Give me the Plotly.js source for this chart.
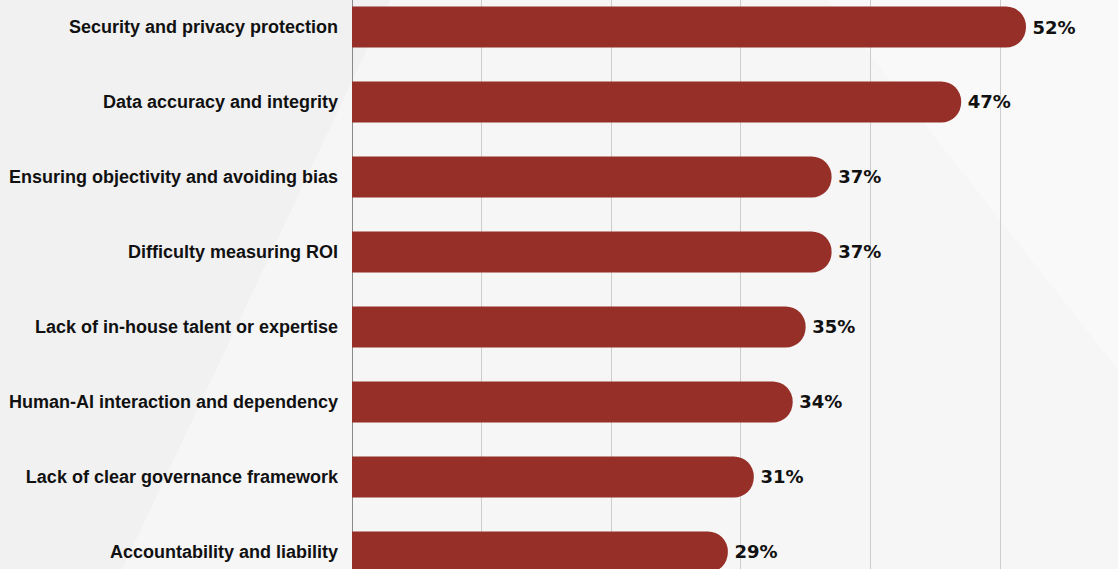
<!DOCTYPE html>
<html>
<head>
<meta charset="utf-8">
<script src="https://cdn.plot.ly/plotly-3.0.1.min.js"></script>
<style>html,body{margin:0;padding:0;background:#f6f6f7;}#chart{width:1118px;height:569px;}</style>
</head>
<body>
<div id="chart"></div>
<script>
const categories = [
  "Security and privacy protection",
  "Data accuracy and integrity",
  "Ensuring objectivity and avoiding bias",
  "Difficulty measuring ROI",
  "Lack of in-house talent or expertise",
  "Human-AI interaction and dependency",
  "Lack of clear governance framework",
  "Accountability and liability"
];
const values = [52, 47, 37, 37, 35, 34, 31, 29];
const xTicks = [0, 10, 20, 30, 40, 50];

const trace = {
  type: 'bar',
  orientation: 'h',
  y: categories,
  x: values,
  marker: { color: '#952f27', cornerradius: '50%' },
  texttemplate: '\u2009%{x}%',
  textposition: 'outside',
  cliponaxis: false,
  textfont: { family: 'DejaVu Sans, sans-serif', size: 18, color: '#111111', weight: 'bold' },
  hoverinfo: 'none'
};

const layout = {
  width: 1118, height: 569,
  margin: { l: 352, r: 0, t: 0, b: 0, pad: 0 },
  paper_bgcolor: '#f6f6f7',
  plot_bgcolor: 'rgba(0,0,0,0)',
  showlegend: false,
  bargap: 0.453,
  xaxis: {
    range: [0, 59.1],
    tickvals: xTicks,
    showticklabels: false,
    showgrid: true,
    gridcolor: '#cdcdcd',
    gridwidth: 1,
    zeroline: true,
    zerolinecolor: '#8a8a8a',
    zerolinewidth: 1,
    fixedrange: true
  },
  yaxis: {
    type: 'category',
    range: [7.227, -0.36],
    showgrid: false,
    zeroline: false,
    ticks: '',
    ticklabelstandoff: 13,
    tickfont: { family: 'Liberation Sans, Arial, sans-serif', size: 18, color: '#111111', weight: 'bold' },
    fixedrange: true
  },
  shapes: [
    { type: 'path', xref: 'paper', yref: 'paper', layer: 'below',
      path: 'M -0.46,0 L -0.46,1 L 0.05,1 L -0.3,0 Z', fillcolor: '#f1f1f2', line: { width: 0 } },
    { type: 'path', xref: 'paper', yref: 'paper', layer: 'below',
      path: 'M 0.62,1 L 1,1 L 1,0.35 Z', fillcolor: '#f9f9fa', line: { width: 0 } }
  ]
};

Plotly.newPlot('chart', [trace], layout, { displayModeBar: false, staticPlot: true });
</script>
</body>
</html>
